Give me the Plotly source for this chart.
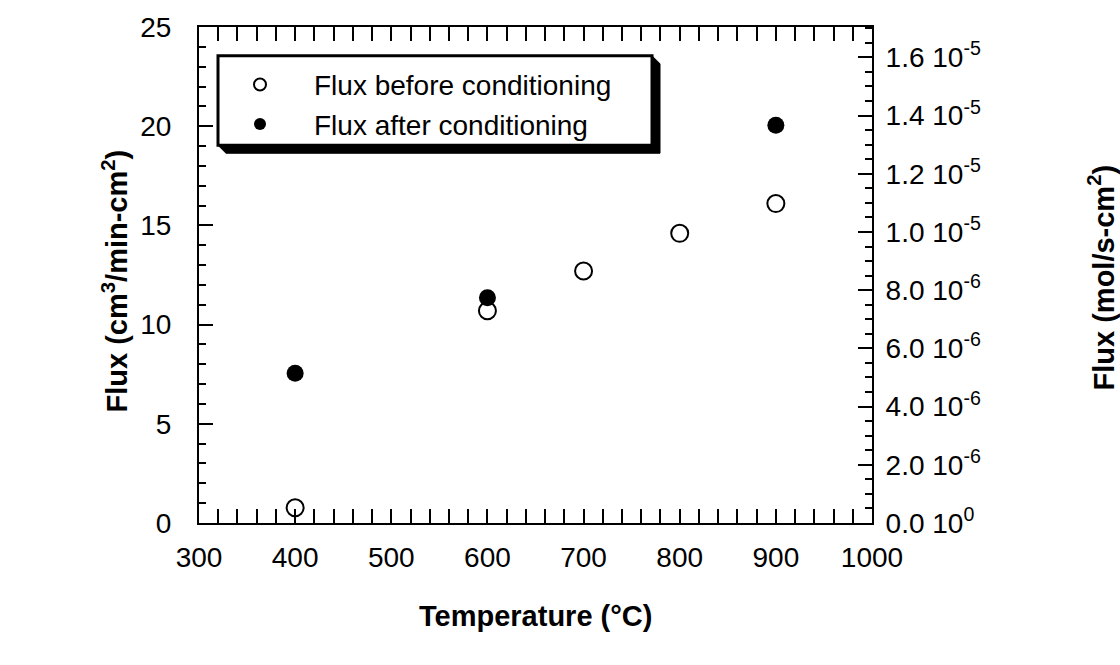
import plotly.graph_objects as go

# Membrane flux measurements
temp_before = [400, 600, 700, 800, 900]
flux_before = [0.77, 10.7, 12.7, 14.6, 16.1]

temp_after = [400, 600, 900]
flux_after = [7.55, 11.35, 20.05]

# cm3(STP)/min -> mol/s  (24.45 L/mol at 25 °C)
CONV = 1.0 / (60.0 * 24.45 * 1000.0)

right_tickvals = [0, 2e-6, 4e-6, 6e-6, 8e-6, 1.0e-5, 1.2e-5, 1.4e-5, 1.6e-5]
right_ticktext = ["0.0 10<sup>0</sup>", "2.0 10<sup>-6</sup>", "4.0 10<sup>-6</sup>",
                  "6.0 10<sup>-6</sup>", "8.0 10<sup>-6</sup>", "1.0 10<sup>-5</sup>",
                  "1.2 10<sup>-5</sup>", "1.4 10<sup>-5</sup>", "1.6 10<sup>-5</sup>"]

W, H = 1120, 665
L, R, T, B = 199, 872, 24, 523
FONT = "Liberation Sans, Arial, sans-serif"


def fx(px):
    return (px - L) / (R - L)


def fy(py):
    return (B - py) / (B - T)


fig = go.Figure()
fig.add_trace(go.Scatter(
    x=temp_before, y=flux_before, mode="markers", name="Flux before conditioning",
    marker=dict(symbol="circle-open", size=17, color="black", line=dict(width=2, color="black")),
))
fig.add_trace(go.Scatter(
    x=temp_after, y=flux_after, mode="markers", name="Flux after conditioning",
    marker=dict(symbol="circle", size=17, color="black"),
))
# molar flux on the secondary axis (same points, hidden)
fig.add_trace(go.Scatter(
    x=temp_after, y=[v * CONV for v in flux_after], yaxis="y2", mode="markers",
    marker=dict(opacity=0), showlegend=False, hoverinfo="skip",
))

axis_common = dict(
    showline=True, linecolor="black", linewidth=2, showgrid=False, zeroline=False,
    ticks="inside", ticklen=14, tickwidth=2, tickcolor="black",
    tickfont=dict(family=FONT, size=28, color="black"),
)

fig.update_layout(
    width=W, height=H,
    margin=dict(l=L, r=W - R, t=T, b=H - B, pad=0),
    paper_bgcolor="white", plot_bgcolor="white",
    font=dict(family=FONT, color="black"),
    xaxis=dict(
        range=[300, 1000], tickmode="linear", tick0=300, dtick=100, mirror="allticks",
        minor=dict(dtick=20, tick0=300, ticklen=7, tickwidth=2, ticks="inside", tickcolor="black"),
        ticklabelstandoff=8,
        **axis_common,
    ),
    yaxis=dict(
        range=[0, 25], tickmode="linear", tick0=0, dtick=5,
        minor=dict(dtick=1, tick0=0, ticklen=7, tickwidth=2, ticks="inside", tickcolor="black"),
        ticklabelstandoff=20,
        **axis_common,
    ),
    yaxis2=dict(
        overlaying="y", side="right", range=[0, 25 * CONV],
        tickmode="array", tickvals=right_tickvals, ticktext=right_ticktext,
        minor=dict(tickmode="linear", tick0=0, dtick=5e-7, ticklen=7, tickwidth=2,
                   ticks="inside", tickcolor="black"),
        ticklabelstandoff=6,
        **axis_common,
    ),
    legend=dict(
        x=fx(206), y=fy(57), xanchor="left", yanchor="top",
        bgcolor="rgba(0,0,0,0)", borderwidth=0,
        font=dict(family=FONT, size=28, color="black"),
        itemwidth=98, tracegroupgap=0, itemsizing="constant",
    ),
    showlegend=True,
)

# legend frame with drop shadow
bx0, by0, bx1, by1, off = 218, 53, 652, 143, 8
shadow = (f"M {fx(bx0)} {fy(by1)} L {fx(bx0 + off)} {fy(by1 + off)} "
          f"L {fx(bx1 + off)} {fy(by1 + off)} L {fx(bx1 + off)} {fy(by0 + off)} "
          f"L {fx(bx1)} {fy(by0)} Z")
fig.add_shape(type="path", path=shadow, xref="paper", yref="paper",
              fillcolor="black", line=dict(color="black", width=1), layer="above")
fig.add_shape(type="rect", xref="paper", yref="paper",
              x0=fx(bx0), x1=fx(bx1), y0=fy(by1), y1=fy(by0),
              fillcolor="white", line=dict(color="black", width=3), layer="above")

title_font = dict(family=FONT, size=29, color="black", weight="bold")
fig.add_annotation(text="<b>Temperature (°C)</b>", xref="paper", yref="paper",
                   x=fx(535), y=fy(617), showarrow=False, font=title_font,
                   xanchor="center", yanchor="middle")
fig.add_annotation(text="<b>Flux (cm<sup>3</sup>/min-cm<sup>2</sup>)</b>", xref="paper", yref="paper",
                   x=fx(115), y=fy(280), showarrow=False, font=title_font, textangle=-90,
                   xanchor="center", yanchor="middle")
fig.add_annotation(text="<b>Flux (mol/s-cm<sup>2</sup>)</b>", xref="paper", yref="paper",
                   x=fx(1102), y=fy(276), showarrow=False, font=title_font, textangle=-90,
                   xanchor="center", yanchor="middle")

fig.write_html("out.html")
